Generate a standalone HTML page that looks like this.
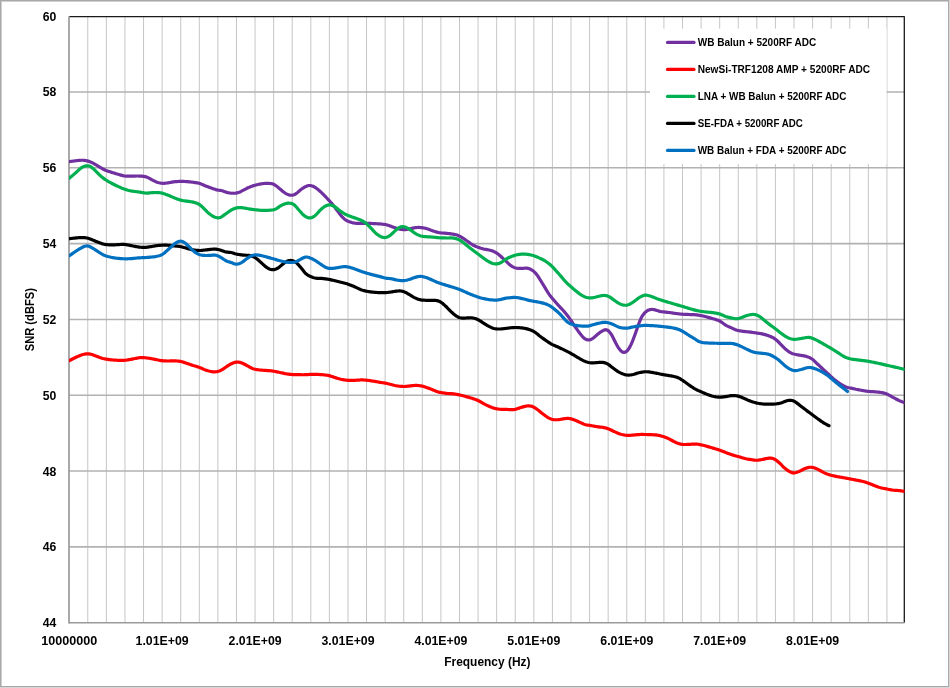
<!DOCTYPE html>
<html><head><meta charset="utf-8"><style>
html,body{margin:0;padding:0;background:#fff;}
body{width:950px;height:688px;overflow:hidden;position:relative;background:#d6d6d6;}
#frame{position:absolute;left:0;top:0;width:947px;height:685px;border:1px solid #a8a8a8;background:#fff;box-shadow:inset 1px 1px 0 #d0d0d0;}
svg{position:absolute;left:0;top:0;will-change:transform;}
.ax{font-family:"Liberation Sans",sans-serif;font-weight:bold;font-size:12.6px;fill:#000;}
.lg{font-family:"Liberation Sans",sans-serif;font-weight:bold;font-size:10.2px;fill:#000;}
</style></head><body>
<div id="frame"></div>
<svg width="950" height="688" viewBox="0 0 950 688">
<path d="M87.78,16.2V622.7 M106.37,16.2V622.7 M124.96,16.2V622.7 M143.54,16.2V622.7 M162.12,16.2V622.7 M180.71,16.2V622.7 M199.3,16.2V622.7 M217.88,16.2V622.7 M236.47,16.2V622.7 M255.05,16.2V622.7 M273.63,16.2V622.7 M292.22,16.2V622.7 M310.81,16.2V622.7 M329.39,16.2V622.7 M347.98,16.2V622.7 M366.56,16.2V622.7 M385.14,16.2V622.7 M403.73,16.2V622.7 M422.31,16.2V622.7 M440.9,16.2V622.7 M459.49,16.2V622.7 M478.07,16.2V622.7 M496.66,16.2V622.7 M515.24,16.2V622.7 M533.83,16.2V622.7 M552.41,16.2V622.7 M571.0,16.2V622.7 M589.58,16.2V622.7 M608.17,16.2V622.7 M626.75,16.2V622.7 M645.34,16.2V622.7 M663.92,16.2V622.7 M682.51,16.2V622.7 M701.09,16.2V622.7 M719.68,16.2V622.7 M738.26,16.2V622.7 M756.85,16.2V622.7 M775.43,16.2V622.7 M794.02,16.2V622.7 M812.6,16.2V622.7 M831.19,16.2V622.7 M849.77,16.2V622.7 M868.36,16.2V622.7 M886.94,16.2V622.7" stroke="#c6c6c6" stroke-width="1" fill="none"/>
<path d="M69.0,92.01H904.5 M69.0,167.82H904.5 M69.0,243.64H904.5 M69.0,319.45H904.5 M69.0,395.26H904.5 M69.0,471.07H904.5 M69.0,546.89H904.5" stroke="#b2b2b2" stroke-width="1.6" fill="none"/>
<path d="M69.0,16.7H904.5M904.3,16.2V622.7" stroke="#1a1a1a" stroke-width="1.3" fill="none"/>
<path d="M69.0,622.7H904.5" stroke="#9a9a9a" stroke-width="1.6" fill="none"/>
<path d="M69.0,16.2V623.5" stroke="#9a9a9a" stroke-width="1.7" fill="none"/>
<rect x="650" y="28.6" width="236.6" height="135.5" fill="#fff"/>
<clipPath id="pc"><rect x="69.0" y="16.2" width="835.5" height="606.5"/></clipPath><g clip-path="url(#pc)">
<path d="M69.0,161.60 L70.0,161.47 L71.0,161.35 L72.0,161.22 L73.0,161.10 L74.0,160.98 L75.0,160.86 L76.0,160.74 L77.0,160.61 L78.0,160.49 L79.0,160.38 L80.0,160.29 L81.0,160.24 L82.0,160.23 L83.0,160.26 L84.0,160.34 L85.0,160.46 L86.0,160.62 L87.0,160.83 L88.0,161.08 L89.0,161.39 L90.0,161.75 L91.0,162.16 L92.0,162.63 L93.0,163.13 L94.0,163.68 L95.0,164.26 L96.0,164.86 L97.0,165.46 L98.0,166.06 L99.0,166.66 L100.0,167.26 L101.0,167.86 L102.0,168.45 L103.0,169.01 L104.0,169.54 L105.0,170.02 L106.0,170.44 L107.0,170.81 L108.0,171.16 L109.0,171.49 L110.0,171.81 L111.0,172.12 L112.0,172.44 L113.0,172.75 L114.0,173.07 L115.0,173.39 L116.0,173.69 L117.0,173.99 L118.0,174.28 L119.0,174.57 L120.0,174.85 L121.0,175.13 L122.0,175.39 L123.0,175.63 L124.0,175.83 L125.0,175.99 L126.0,176.10 L127.0,176.17 L128.0,176.20 L129.0,176.21 L130.0,176.21 L131.0,176.20 L132.0,176.18 L133.0,176.15 L134.0,176.11 L135.0,176.06 L136.0,176.02 L137.0,176.00 L138.0,176.00 L139.0,176.03 L140.0,176.08 L141.0,176.14 L142.0,176.21 L143.0,176.31 L144.0,176.43 L145.0,176.61 L146.0,176.85 L147.0,177.19 L148.0,177.63 L149.0,178.16 L150.0,178.72 L151.0,179.28 L152.0,179.81 L153.0,180.34 L154.0,180.85 L155.0,181.34 L156.0,181.77 L157.0,182.15 L158.0,182.48 L159.0,182.76 L160.0,182.98 L161.0,183.16 L162.0,183.26 L163.0,183.31 L164.0,183.29 L165.0,183.22 L166.0,183.12 L167.0,183.00 L168.0,182.86 L169.0,182.70 L170.0,182.51 L171.0,182.31 L172.0,182.12 L173.0,181.94 L174.0,181.80 L175.0,181.70 L176.0,181.61 L177.0,181.54 L178.0,181.49 L179.0,181.45 L180.0,181.42 L181.0,181.40 L182.0,181.40 L183.0,181.42 L184.0,181.44 L185.0,181.49 L186.0,181.54 L187.0,181.61 L188.0,181.69 L189.0,181.79 L190.0,181.90 L191.0,182.02 L192.0,182.15 L193.0,182.28 L194.0,182.41 L195.0,182.54 L196.0,182.68 L197.0,182.84 L198.0,183.03 L199.0,183.28 L200.0,183.59 L201.0,183.96 L202.0,184.37 L203.0,184.81 L204.0,185.24 L205.0,185.67 L206.0,186.07 L207.0,186.46 L208.0,186.85 L209.0,187.23 L210.0,187.60 L211.0,187.95 L212.0,188.30 L213.0,188.65 L214.0,188.98 L215.0,189.30 L216.0,189.61 L217.0,189.89 L218.0,190.11 L219.0,190.25 L220.0,190.36 L221.0,190.52 L222.0,190.77 L223.0,191.09 L224.0,191.44 L225.0,191.79 L226.0,192.12 L227.0,192.40 L228.0,192.64 L229.0,192.84 L230.0,193.00 L231.0,193.13 L232.0,193.22 L233.0,193.27 L234.0,193.27 L235.0,193.21 L236.0,193.10 L237.0,192.92 L238.0,192.67 L239.0,192.35 L240.0,191.94 L241.0,191.45 L242.0,190.92 L243.0,190.38 L244.0,189.85 L245.0,189.33 L246.0,188.81 L247.0,188.30 L248.0,187.81 L249.0,187.36 L250.0,186.95 L251.0,186.56 L252.0,186.20 L253.0,185.86 L254.0,185.55 L255.0,185.25 L256.0,184.98 L257.0,184.73 L258.0,184.50 L259.0,184.29 L260.0,184.10 L261.0,183.93 L262.0,183.78 L263.0,183.65 L264.0,183.53 L265.0,183.43 L266.0,183.35 L267.0,183.31 L268.0,183.32 L269.0,183.39 L270.0,183.48 L271.0,183.56 L272.0,183.70 L273.0,183.99 L274.0,184.46 L275.0,185.08 L276.0,185.79 L277.0,186.56 L278.0,187.35 L279.0,188.15 L280.0,188.97 L281.0,189.82 L282.0,190.66 L283.0,191.49 L284.0,192.27 L285.0,192.99 L286.0,193.62 L287.0,194.14 L288.0,194.55 L289.0,194.86 L290.0,195.10 L291.0,195.23 L292.0,195.22 L293.0,195.05 L294.0,194.73 L295.0,194.26 L296.0,193.67 L297.0,192.95 L298.0,192.13 L299.0,191.25 L300.0,190.37 L301.0,189.55 L302.0,188.80 L303.0,188.12 L304.0,187.49 L305.0,186.92 L306.0,186.41 L307.0,185.99 L308.0,185.68 L309.0,185.52 L310.0,185.52 L311.0,185.67 L312.0,185.95 L313.0,186.31 L314.0,186.77 L315.0,187.31 L316.0,187.95 L317.0,188.68 L318.0,189.49 L319.0,190.36 L320.0,191.26 L321.0,192.19 L322.0,193.14 L323.0,194.13 L324.0,195.14 L325.0,196.17 L326.0,197.21 L327.0,198.25 L328.0,199.30 L329.0,200.37 L330.0,201.47 L331.0,202.61 L332.0,203.80 L333.0,205.05 L334.0,206.32 L335.0,207.61 L336.0,208.92 L337.0,210.23 L338.0,211.56 L339.0,212.89 L340.0,214.20 L341.0,215.44 L342.0,216.60 L343.0,217.67 L344.0,218.63 L345.0,219.47 L346.0,220.19 L347.0,220.76 L348.0,221.20 L349.0,221.57 L350.0,221.91 L351.0,222.24 L352.0,222.56 L353.0,222.84 L354.0,223.05 L355.0,223.20 L356.0,223.28 L357.0,223.32 L358.0,223.32 L359.0,223.31 L360.0,223.31 L361.0,223.30 L362.0,223.30 L363.0,223.29 L364.0,223.29 L365.0,223.29 L366.0,223.30 L367.0,223.32 L368.0,223.35 L369.0,223.38 L370.0,223.42 L371.0,223.46 L372.0,223.51 L373.0,223.56 L374.0,223.60 L375.0,223.65 L376.0,223.70 L377.0,223.74 L378.0,223.79 L379.0,223.85 L380.0,223.93 L381.0,224.01 L382.0,224.11 L383.0,224.22 L384.0,224.35 L385.0,224.50 L386.0,224.69 L387.0,224.93 L388.0,225.22 L389.0,225.55 L390.0,225.92 L391.0,226.30 L392.0,226.69 L393.0,227.06 L394.0,227.41 L395.0,227.75 L396.0,228.09 L397.0,228.40 L398.0,228.68 L399.0,228.94 L400.0,229.17 L401.0,229.37 L402.0,229.53 L403.0,229.63 L404.0,229.67 L405.0,229.63 L406.0,229.54 L407.0,229.40 L408.0,229.24 L409.0,229.05 L410.0,228.83 L411.0,228.59 L412.0,228.34 L413.0,228.10 L414.0,227.88 L415.0,227.71 L416.0,227.59 L417.0,227.51 L418.0,227.47 L419.0,227.47 L420.0,227.50 L421.0,227.58 L422.0,227.68 L423.0,227.82 L424.0,227.98 L425.0,228.19 L426.0,228.43 L427.0,228.72 L428.0,229.07 L429.0,229.45 L430.0,229.84 L431.0,230.22 L432.0,230.57 L433.0,230.91 L434.0,231.24 L435.0,231.55 L436.0,231.85 L437.0,232.12 L438.0,232.37 L439.0,232.58 L440.0,232.76 L441.0,232.91 L442.0,233.01 L443.0,233.09 L444.0,233.15 L445.0,233.22 L446.0,233.30 L447.0,233.39 L448.0,233.48 L449.0,233.59 L450.0,233.70 L451.0,233.83 L452.0,233.98 L453.0,234.14 L454.0,234.32 L455.0,234.53 L456.0,234.78 L457.0,235.09 L458.0,235.47 L459.0,235.92 L460.0,236.42 L461.0,236.97 L462.0,237.55 L463.0,238.17 L464.0,238.83 L465.0,239.53 L466.0,240.24 L467.0,240.96 L468.0,241.67 L469.0,242.37 L470.0,243.07 L471.0,243.76 L472.0,244.41 L473.0,245.01 L474.0,245.55 L475.0,246.03 L476.0,246.47 L477.0,246.87 L478.0,247.25 L479.0,247.61 L480.0,247.95 L481.0,248.27 L482.0,248.56 L483.0,248.83 L484.0,249.07 L485.0,249.26 L486.0,249.42 L487.0,249.57 L488.0,249.75 L489.0,249.97 L490.0,250.22 L491.0,250.50 L492.0,250.82 L493.0,251.17 L494.0,251.59 L495.0,252.09 L496.0,252.66 L497.0,253.31 L498.0,254.03 L499.0,254.81 L500.0,255.65 L501.0,256.55 L502.0,257.46 L503.0,258.39 L504.0,259.32 L505.0,260.26 L506.0,261.21 L507.0,262.18 L508.0,263.16 L509.0,264.09 L510.0,264.94 L511.0,265.69 L512.0,266.35 L513.0,266.93 L514.0,267.41 L515.0,267.78 L516.0,268.05 L517.0,268.22 L518.0,268.31 L519.0,268.36 L520.0,268.38 L521.0,268.38 L522.0,268.36 L523.0,268.30 L524.0,268.23 L525.0,268.16 L526.0,268.13 L527.0,268.16 L528.0,268.32 L529.0,268.61 L530.0,269.03 L531.0,269.52 L532.0,270.10 L533.0,270.79 L534.0,271.62 L535.0,272.57 L536.0,273.66 L537.0,274.89 L538.0,276.30 L539.0,277.85 L540.0,279.49 L541.0,281.14 L542.0,282.76 L543.0,284.37 L544.0,286.00 L545.0,287.66 L546.0,289.36 L547.0,291.03 L548.0,292.62 L549.0,294.08 L550.0,295.43 L551.0,296.70 L552.0,297.94 L553.0,299.15 L554.0,300.35 L555.0,301.51 L556.0,302.66 L557.0,303.79 L558.0,304.89 L559.0,305.98 L560.0,307.04 L561.0,308.10 L562.0,309.16 L563.0,310.25 L564.0,311.37 L565.0,312.52 L566.0,313.73 L567.0,314.99 L568.0,316.31 L569.0,317.67 L570.0,319.07 L571.0,320.51 L572.0,322.00 L573.0,323.52 L574.0,325.04 L575.0,326.53 L576.0,328.00 L577.0,329.45 L578.0,330.85 L579.0,332.19 L580.0,333.50 L581.0,334.79 L582.0,336.01 L583.0,337.13 L584.0,338.09 L585.0,338.83 L586.0,339.37 L587.0,339.72 L588.0,339.91 L589.0,339.95 L590.0,339.80 L591.0,339.44 L592.0,338.88 L593.0,338.20 L594.0,337.43 L595.0,336.60 L596.0,335.72 L597.0,334.82 L598.0,333.96 L599.0,333.16 L600.0,332.44 L601.0,331.77 L602.0,331.15 L603.0,330.60 L604.0,330.14 L605.0,329.81 L606.0,329.71 L607.0,329.96 L608.0,330.57 L609.0,331.46 L610.0,332.58 L611.0,333.93 L612.0,335.54 L613.0,337.42 L614.0,339.48 L615.0,341.55 L616.0,343.51 L617.0,345.34 L618.0,347.05 L619.0,348.58 L620.0,349.87 L621.0,350.92 L622.0,351.71 L623.0,352.23 L624.0,352.42 L625.0,352.28 L626.0,351.79 L627.0,350.99 L628.0,349.87 L629.0,348.42 L630.0,346.65 L631.0,344.60 L632.0,342.35 L633.0,339.91 L634.0,337.30 L635.0,334.55 L636.0,331.74 L637.0,328.90 L638.0,326.04 L639.0,323.21 L640.0,320.59 L641.0,318.33 L642.0,316.48 L643.0,314.97 L644.0,313.70 L645.0,312.62 L646.0,311.68 L647.0,310.92 L648.0,310.33 L649.0,309.92 L650.0,309.64 L651.0,309.48 L652.0,309.44 L653.0,309.52 L654.0,309.68 L655.0,309.90 L656.0,310.16 L657.0,310.47 L658.0,310.79 L659.0,311.10 L660.0,311.36 L661.0,311.57 L662.0,311.71 L663.0,311.83 L664.0,311.94 L665.0,312.05 L666.0,312.17 L667.0,312.29 L668.0,312.40 L669.0,312.53 L670.0,312.65 L671.0,312.79 L672.0,312.93 L673.0,313.09 L674.0,313.24 L675.0,313.39 L676.0,313.53 L677.0,313.66 L678.0,313.77 L679.0,313.88 L680.0,313.98 L681.0,314.08 L682.0,314.16 L683.0,314.23 L684.0,314.29 L685.0,314.34 L686.0,314.39 L687.0,314.43 L688.0,314.47 L689.0,314.50 L690.0,314.53 L691.0,314.55 L692.0,314.57 L693.0,314.60 L694.0,314.65 L695.0,314.72 L696.0,314.82 L697.0,314.94 L698.0,315.08 L699.0,315.23 L700.0,315.40 L701.0,315.59 L702.0,315.80 L703.0,316.03 L704.0,316.28 L705.0,316.54 L706.0,316.81 L707.0,317.07 L708.0,317.34 L709.0,317.61 L710.0,317.88 L711.0,318.16 L712.0,318.44 L713.0,318.74 L714.0,319.03 L715.0,319.32 L716.0,319.61 L717.0,319.93 L718.0,320.29 L719.0,320.71 L720.0,321.22 L721.0,321.82 L722.0,322.51 L723.0,323.25 L724.0,324.00 L725.0,324.71 L726.0,325.35 L727.0,325.90 L728.0,326.37 L729.0,326.80 L730.0,327.21 L731.0,327.64 L732.0,328.10 L733.0,328.59 L734.0,329.07 L735.0,329.52 L736.0,329.90 L737.0,330.21 L738.0,330.47 L739.0,330.68 L740.0,330.86 L741.0,331.03 L742.0,331.18 L743.0,331.33 L744.0,331.46 L745.0,331.58 L746.0,331.68 L747.0,331.77 L748.0,331.86 L749.0,331.96 L750.0,332.06 L751.0,332.18 L752.0,332.32 L753.0,332.46 L754.0,332.61 L755.0,332.76 L756.0,332.92 L757.0,333.07 L758.0,333.22 L759.0,333.37 L760.0,333.52 L761.0,333.69 L762.0,333.88 L763.0,334.10 L764.0,334.34 L765.0,334.60 L766.0,334.87 L767.0,335.18 L768.0,335.52 L769.0,335.89 L770.0,336.29 L771.0,336.72 L772.0,337.18 L773.0,337.69 L774.0,338.26 L775.0,338.93 L776.0,339.70 L777.0,340.57 L778.0,341.51 L779.0,342.50 L780.0,343.51 L781.0,344.53 L782.0,345.57 L783.0,346.62 L784.0,347.63 L785.0,348.59 L786.0,349.48 L787.0,350.31 L788.0,351.08 L789.0,351.79 L790.0,352.41 L791.0,352.95 L792.0,353.39 L793.0,353.74 L794.0,354.04 L795.0,354.30 L796.0,354.53 L797.0,354.74 L798.0,354.92 L799.0,355.09 L800.0,355.24 L801.0,355.40 L802.0,355.55 L803.0,355.69 L804.0,355.86 L805.0,356.06 L806.0,356.33 L807.0,356.64 L808.0,356.99 L809.0,357.38 L810.0,357.83 L811.0,358.37 L812.0,359.01 L813.0,359.78 L814.0,360.67 L815.0,361.63 L816.0,362.62 L817.0,363.58 L818.0,364.52 L819.0,365.45 L820.0,366.37 L821.0,367.29 L822.0,368.22 L823.0,369.14 L824.0,370.06 L825.0,370.98 L826.0,371.89 L827.0,372.81 L828.0,373.74 L829.0,374.66 L830.0,375.60 L831.0,376.55 L832.0,377.48 L833.0,378.39 L834.0,379.26 L835.0,380.09 L836.0,380.88 L837.0,381.64 L838.0,382.36 L839.0,383.05 L840.0,383.71 L841.0,384.33 L842.0,384.92 L843.0,385.48 L844.0,386.00 L845.0,386.48 L846.0,386.90 L847.0,387.26 L848.0,387.56 L849.0,387.80 L850.0,388.00 L851.0,388.17 L852.0,388.36 L853.0,388.57 L854.0,388.81 L855.0,389.06 L856.0,389.29 L857.0,389.49 L858.0,389.68 L859.0,389.86 L860.0,390.03 L861.0,390.21 L862.0,390.38 L863.0,390.55 L864.0,390.73 L865.0,390.91 L866.0,391.07 L867.0,391.23 L868.0,391.35 L869.0,391.45 L870.0,391.53 L871.0,391.58 L872.0,391.63 L873.0,391.68 L874.0,391.74 L875.0,391.81 L876.0,391.90 L877.0,391.99 L878.0,392.09 L879.0,392.21 L880.0,392.35 L881.0,392.51 L882.0,392.69 L883.0,392.89 L884.0,393.11 L885.0,393.38 L886.0,393.70 L887.0,394.08 L888.0,394.54 L889.0,395.07 L890.0,395.64 L891.0,396.23 L892.0,396.81 L893.0,397.38 L894.0,397.92 L895.0,398.45 L896.0,398.97 L897.0,399.48 L898.0,399.97 L899.0,400.45 L900.0,400.90 L901.0,401.32 L902.0,401.73 L903.0,402.12 L904.0,402.51 L904.5,402.70" stroke="#7030A0" stroke-width="3.2" fill="none" stroke-linecap="round" stroke-linejoin="round"/>
<path d="M69.0,360.70 L70.0,360.20 L71.0,359.71 L72.0,359.21 L73.0,358.72 L74.0,358.24 L75.0,357.76 L76.0,357.28 L77.0,356.82 L78.0,356.36 L79.0,355.92 L80.0,355.52 L81.0,355.15 L82.0,354.82 L83.0,354.53 L84.0,354.29 L85.0,354.09 L86.0,353.94 L87.0,353.85 L88.0,353.83 L89.0,353.90 L90.0,354.05 L91.0,354.28 L92.0,354.56 L93.0,354.89 L94.0,355.26 L95.0,355.65 L96.0,356.05 L97.0,356.44 L98.0,356.82 L99.0,357.19 L100.0,357.56 L101.0,357.90 L102.0,358.21 L103.0,358.48 L104.0,358.72 L105.0,358.92 L106.0,359.10 L107.0,359.26 L108.0,359.41 L109.0,359.55 L110.0,359.68 L111.0,359.79 L112.0,359.90 L113.0,359.99 L114.0,360.07 L115.0,360.14 L116.0,360.20 L117.0,360.25 L118.0,360.29 L119.0,360.32 L120.0,360.34 L121.0,360.36 L122.0,360.37 L123.0,360.36 L124.0,360.33 L125.0,360.27 L126.0,360.17 L127.0,360.04 L128.0,359.87 L129.0,359.69 L130.0,359.51 L131.0,359.33 L132.0,359.14 L133.0,358.94 L134.0,358.75 L135.0,358.55 L136.0,358.36 L137.0,358.16 L138.0,357.95 L139.0,357.77 L140.0,357.62 L141.0,357.54 L142.0,357.53 L143.0,357.57 L144.0,357.67 L145.0,357.78 L146.0,357.90 L147.0,358.01 L148.0,358.14 L149.0,358.27 L150.0,358.41 L151.0,358.58 L152.0,358.76 L153.0,358.96 L154.0,359.17 L155.0,359.38 L156.0,359.60 L157.0,359.80 L158.0,360.00 L159.0,360.20 L160.0,360.39 L161.0,360.55 L162.0,360.68 L163.0,360.79 L164.0,360.86 L165.0,360.92 L166.0,360.95 L167.0,360.98 L168.0,360.99 L169.0,360.99 L170.0,360.96 L171.0,360.93 L172.0,360.91 L173.0,360.90 L174.0,360.91 L175.0,360.93 L176.0,360.97 L177.0,361.02 L178.0,361.08 L179.0,361.18 L180.0,361.32 L181.0,361.51 L182.0,361.75 L183.0,362.04 L184.0,362.37 L185.0,362.71 L186.0,363.05 L187.0,363.40 L188.0,363.74 L189.0,364.09 L190.0,364.44 L191.0,364.79 L192.0,365.13 L193.0,365.46 L194.0,365.76 L195.0,366.05 L196.0,366.33 L197.0,366.61 L198.0,366.92 L199.0,367.25 L200.0,367.63 L201.0,368.05 L202.0,368.49 L203.0,368.94 L204.0,369.37 L205.0,369.77 L206.0,370.13 L207.0,370.45 L208.0,370.76 L209.0,371.04 L210.0,371.29 L211.0,371.50 L212.0,371.68 L213.0,371.81 L214.0,371.87 L215.0,371.84 L216.0,371.74 L217.0,371.57 L218.0,371.34 L219.0,371.05 L220.0,370.69 L221.0,370.25 L222.0,369.71 L223.0,369.08 L224.0,368.39 L225.0,367.69 L226.0,367.01 L227.0,366.35 L228.0,365.69 L229.0,365.06 L230.0,364.47 L231.0,363.93 L232.0,363.44 L233.0,363.01 L234.0,362.63 L235.0,362.33 L236.0,362.12 L237.0,362.03 L238.0,362.06 L239.0,362.20 L240.0,362.41 L241.0,362.70 L242.0,363.05 L243.0,363.46 L244.0,363.94 L245.0,364.47 L246.0,365.01 L247.0,365.56 L248.0,366.13 L249.0,366.70 L250.0,367.27 L251.0,367.81 L252.0,368.27 L253.0,368.66 L254.0,368.97 L255.0,369.23 L256.0,369.44 L257.0,369.62 L258.0,369.78 L259.0,369.91 L260.0,370.01 L261.0,370.10 L262.0,370.18 L263.0,370.26 L264.0,370.33 L265.0,370.40 L266.0,370.47 L267.0,370.53 L268.0,370.59 L269.0,370.66 L270.0,370.74 L271.0,370.84 L272.0,370.96 L273.0,371.11 L274.0,371.28 L275.0,371.46 L276.0,371.66 L277.0,371.86 L278.0,372.06 L279.0,372.27 L280.0,372.48 L281.0,372.70 L282.0,372.92 L283.0,373.14 L284.0,373.36 L285.0,373.57 L286.0,373.75 L287.0,373.92 L288.0,374.06 L289.0,374.19 L290.0,374.30 L291.0,374.39 L292.0,374.47 L293.0,374.53 L294.0,374.58 L295.0,374.62 L296.0,374.65 L297.0,374.67 L298.0,374.68 L299.0,374.70 L300.0,374.71 L301.0,374.72 L302.0,374.73 L303.0,374.73 L304.0,374.73 L305.0,374.71 L306.0,374.69 L307.0,374.64 L308.0,374.57 L309.0,374.49 L310.0,374.43 L311.0,374.39 L312.0,374.37 L313.0,374.36 L314.0,374.36 L315.0,374.37 L316.0,374.39 L317.0,374.42 L318.0,374.45 L319.0,374.50 L320.0,374.55 L321.0,374.61 L322.0,374.68 L323.0,374.76 L324.0,374.86 L325.0,374.97 L326.0,375.10 L327.0,375.24 L328.0,375.42 L329.0,375.63 L330.0,375.88 L331.0,376.18 L332.0,376.52 L333.0,376.87 L334.0,377.22 L335.0,377.56 L336.0,377.89 L337.0,378.21 L338.0,378.52 L339.0,378.81 L340.0,379.07 L341.0,379.31 L342.0,379.51 L343.0,379.69 L344.0,379.85 L345.0,379.99 L346.0,380.11 L347.0,380.22 L348.0,380.29 L349.0,380.35 L350.0,380.38 L351.0,380.38 L352.0,380.37 L353.0,380.35 L354.0,380.32 L355.0,380.29 L356.0,380.24 L357.0,380.19 L358.0,380.12 L359.0,380.05 L360.0,379.98 L361.0,379.94 L362.0,379.92 L363.0,379.93 L364.0,379.98 L365.0,380.05 L366.0,380.15 L367.0,380.26 L368.0,380.39 L369.0,380.52 L370.0,380.66 L371.0,380.81 L372.0,380.96 L373.0,381.11 L374.0,381.27 L375.0,381.43 L376.0,381.60 L377.0,381.78 L378.0,381.97 L379.0,382.15 L380.0,382.32 L381.0,382.48 L382.0,382.63 L383.0,382.77 L384.0,382.92 L385.0,383.09 L386.0,383.29 L387.0,383.49 L388.0,383.72 L389.0,383.95 L390.0,384.19 L391.0,384.44 L392.0,384.71 L393.0,384.99 L394.0,385.27 L395.0,385.52 L396.0,385.73 L397.0,385.90 L398.0,386.04 L399.0,386.17 L400.0,386.27 L401.0,386.36 L402.0,386.43 L403.0,386.47 L404.0,386.48 L405.0,386.45 L406.0,386.37 L407.0,386.27 L408.0,386.16 L409.0,386.04 L410.0,385.94 L411.0,385.83 L412.0,385.71 L413.0,385.61 L414.0,385.51 L415.0,385.45 L416.0,385.42 L417.0,385.44 L418.0,385.50 L419.0,385.59 L420.0,385.72 L421.0,385.87 L422.0,386.07 L423.0,386.31 L424.0,386.61 L425.0,386.95 L426.0,387.30 L427.0,387.65 L428.0,388.01 L429.0,388.37 L430.0,388.74 L431.0,389.13 L432.0,389.54 L433.0,389.96 L434.0,390.39 L435.0,390.80 L436.0,391.20 L437.0,391.55 L438.0,391.85 L439.0,392.11 L440.0,392.33 L441.0,392.53 L442.0,392.71 L443.0,392.88 L444.0,393.03 L445.0,393.17 L446.0,393.29 L447.0,393.40 L448.0,393.48 L449.0,393.54 L450.0,393.59 L451.0,393.64 L452.0,393.71 L453.0,393.80 L454.0,393.93 L455.0,394.08 L456.0,394.24 L457.0,394.42 L458.0,394.62 L459.0,394.82 L460.0,395.04 L461.0,395.27 L462.0,395.52 L463.0,395.78 L464.0,396.05 L465.0,396.32 L466.0,396.58 L467.0,396.85 L468.0,397.12 L469.0,397.39 L470.0,397.68 L471.0,397.98 L472.0,398.30 L473.0,398.62 L474.0,398.95 L475.0,399.30 L476.0,399.66 L477.0,400.05 L478.0,400.48 L479.0,400.97 L480.0,401.50 L481.0,402.08 L482.0,402.67 L483.0,403.25 L484.0,403.80 L485.0,404.34 L486.0,404.85 L487.0,405.35 L488.0,405.83 L489.0,406.28 L490.0,406.71 L491.0,407.12 L492.0,407.50 L493.0,407.85 L494.0,408.15 L495.0,408.41 L496.0,408.64 L497.0,408.83 L498.0,409.00 L499.0,409.15 L500.0,409.26 L501.0,409.34 L502.0,409.39 L503.0,409.40 L504.0,409.40 L505.0,409.40 L506.0,409.41 L507.0,409.44 L508.0,409.48 L509.0,409.53 L510.0,409.57 L511.0,409.59 L512.0,409.61 L513.0,409.60 L514.0,409.54 L515.0,409.39 L516.0,409.15 L517.0,408.83 L518.0,408.48 L519.0,408.12 L520.0,407.77 L521.0,407.45 L522.0,407.15 L523.0,406.86 L524.0,406.59 L525.0,406.35 L526.0,406.15 L527.0,406.02 L528.0,405.94 L529.0,405.92 L530.0,405.98 L531.0,406.14 L532.0,406.40 L533.0,406.79 L534.0,407.31 L535.0,407.93 L536.0,408.61 L537.0,409.32 L538.0,410.06 L539.0,410.83 L540.0,411.62 L541.0,412.43 L542.0,413.22 L543.0,414.00 L544.0,414.76 L545.0,415.51 L546.0,416.23 L547.0,416.91 L548.0,417.53 L549.0,418.10 L550.0,418.60 L551.0,419.02 L552.0,419.33 L553.0,419.55 L554.0,419.68 L555.0,419.75 L556.0,419.77 L557.0,419.75 L558.0,419.70 L559.0,419.61 L560.0,419.47 L561.0,419.29 L562.0,419.09 L563.0,418.91 L564.0,418.75 L565.0,418.61 L566.0,418.50 L567.0,418.42 L568.0,418.40 L569.0,418.46 L570.0,418.61 L571.0,418.83 L572.0,419.11 L573.0,419.43 L574.0,419.78 L575.0,420.17 L576.0,420.59 L577.0,421.04 L578.0,421.50 L579.0,421.96 L580.0,422.41 L581.0,422.85 L582.0,423.29 L583.0,423.72 L584.0,424.14 L585.0,424.53 L586.0,424.84 L587.0,425.05 L588.0,425.17 L589.0,425.27 L590.0,425.40 L591.0,425.58 L592.0,425.77 L593.0,425.96 L594.0,426.15 L595.0,426.34 L596.0,426.51 L597.0,426.66 L598.0,426.80 L599.0,426.92 L600.0,427.04 L601.0,427.15 L602.0,427.28 L603.0,427.43 L604.0,427.61 L605.0,427.82 L606.0,428.07 L607.0,428.37 L608.0,428.71 L609.0,429.11 L610.0,429.55 L611.0,430.02 L612.0,430.50 L613.0,430.98 L614.0,431.44 L615.0,431.91 L616.0,432.37 L617.0,432.82 L618.0,433.25 L619.0,433.63 L620.0,433.98 L621.0,434.27 L622.0,434.53 L623.0,434.75 L624.0,434.94 L625.0,435.10 L626.0,435.22 L627.0,435.30 L628.0,435.34 L629.0,435.34 L630.0,435.30 L631.0,435.24 L632.0,435.18 L633.0,435.10 L634.0,435.02 L635.0,434.92 L636.0,434.81 L637.0,434.70 L638.0,434.60 L639.0,434.53 L640.0,434.48 L641.0,434.46 L642.0,434.45 L643.0,434.46 L644.0,434.48 L645.0,434.49 L646.0,434.51 L647.0,434.53 L648.0,434.55 L649.0,434.57 L650.0,434.60 L651.0,434.64 L652.0,434.69 L653.0,434.74 L654.0,434.80 L655.0,434.86 L656.0,434.95 L657.0,435.08 L658.0,435.24 L659.0,435.44 L660.0,435.68 L661.0,435.93 L662.0,436.21 L663.0,436.51 L664.0,436.82 L665.0,437.16 L666.0,437.52 L667.0,437.94 L668.0,438.41 L669.0,438.93 L670.0,439.46 L671.0,439.99 L672.0,440.51 L673.0,441.03 L674.0,441.55 L675.0,442.05 L676.0,442.52 L677.0,442.95 L678.0,443.33 L679.0,443.65 L680.0,443.92 L681.0,444.14 L682.0,444.30 L683.0,444.41 L684.0,444.48 L685.0,444.50 L686.0,444.49 L687.0,444.46 L688.0,444.42 L689.0,444.38 L690.0,444.32 L691.0,444.25 L692.0,444.17 L693.0,444.09 L694.0,444.04 L695.0,444.02 L696.0,444.04 L697.0,444.12 L698.0,444.25 L699.0,444.42 L700.0,444.62 L701.0,444.84 L702.0,445.06 L703.0,445.30 L704.0,445.55 L705.0,445.81 L706.0,446.08 L707.0,446.35 L708.0,446.63 L709.0,446.91 L710.0,447.20 L711.0,447.50 L712.0,447.80 L713.0,448.10 L714.0,448.40 L715.0,448.70 L716.0,448.99 L717.0,449.29 L718.0,449.61 L719.0,449.94 L720.0,450.29 L721.0,450.66 L722.0,451.05 L723.0,451.44 L724.0,451.84 L725.0,452.23 L726.0,452.62 L727.0,453.00 L728.0,453.38 L729.0,453.75 L730.0,454.11 L731.0,454.46 L732.0,454.79 L733.0,455.11 L734.0,455.40 L735.0,455.68 L736.0,455.95 L737.0,456.22 L738.0,456.49 L739.0,456.78 L740.0,457.07 L741.0,457.38 L742.0,457.68 L743.0,457.97 L744.0,458.26 L745.0,458.53 L746.0,458.78 L747.0,458.99 L748.0,459.17 L749.0,459.32 L750.0,459.45 L751.0,459.58 L752.0,459.74 L753.0,459.90 L754.0,460.06 L755.0,460.19 L756.0,460.25 L757.0,460.25 L758.0,460.17 L759.0,460.04 L760.0,459.88 L761.0,459.70 L762.0,459.51 L763.0,459.31 L764.0,459.10 L765.0,458.87 L766.0,458.65 L767.0,458.45 L768.0,458.30 L769.0,458.21 L770.0,458.17 L771.0,458.20 L772.0,458.32 L773.0,458.55 L774.0,458.92 L775.0,459.44 L776.0,460.10 L777.0,460.85 L778.0,461.68 L779.0,462.55 L780.0,463.48 L781.0,464.48 L782.0,465.51 L783.0,466.53 L784.0,467.49 L785.0,468.37 L786.0,469.17 L787.0,469.91 L788.0,470.60 L789.0,471.23 L790.0,471.79 L791.0,472.28 L792.0,472.65 L793.0,472.87 L794.0,472.91 L795.0,472.79 L796.0,472.56 L797.0,472.24 L798.0,471.87 L799.0,471.46 L800.0,471.02 L801.0,470.53 L802.0,470.01 L803.0,469.49 L804.0,468.99 L805.0,468.55 L806.0,468.17 L807.0,467.84 L808.0,467.58 L809.0,467.38 L810.0,467.27 L811.0,467.26 L812.0,467.36 L813.0,467.55 L814.0,467.81 L815.0,468.13 L816.0,468.51 L817.0,468.93 L818.0,469.42 L819.0,469.93 L820.0,470.47 L821.0,471.00 L822.0,471.54 L823.0,472.08 L824.0,472.62 L825.0,473.12 L826.0,473.57 L827.0,473.97 L828.0,474.32 L829.0,474.63 L830.0,474.92 L831.0,475.19 L832.0,475.45 L833.0,475.69 L834.0,475.92 L835.0,476.14 L836.0,476.35 L837.0,476.56 L838.0,476.76 L839.0,476.94 L840.0,477.12 L841.0,477.29 L842.0,477.45 L843.0,477.62 L844.0,477.79 L845.0,477.97 L846.0,478.16 L847.0,478.35 L848.0,478.54 L849.0,478.72 L850.0,478.91 L851.0,479.10 L852.0,479.29 L853.0,479.48 L854.0,479.67 L855.0,479.86 L856.0,480.06 L857.0,480.25 L858.0,480.44 L859.0,480.63 L860.0,480.83 L861.0,481.04 L862.0,481.27 L863.0,481.51 L864.0,481.78 L865.0,482.07 L866.0,482.37 L867.0,482.69 L868.0,483.03 L869.0,483.39 L870.0,483.78 L871.0,484.18 L872.0,484.59 L873.0,485.00 L874.0,485.40 L875.0,485.79 L876.0,486.17 L877.0,486.55 L878.0,486.91 L879.0,487.25 L880.0,487.55 L881.0,487.82 L882.0,488.06 L883.0,488.27 L884.0,488.47 L885.0,488.66 L886.0,488.85 L887.0,489.04 L888.0,489.25 L889.0,489.45 L890.0,489.65 L891.0,489.84 L892.0,490.01 L893.0,490.16 L894.0,490.27 L895.0,490.35 L896.0,490.41 L897.0,490.46 L898.0,490.51 L899.0,490.59 L900.0,490.70 L901.0,490.83 L902.0,490.98 L903.0,491.15 L904.0,491.32 L904.5,491.40" stroke="#FF0000" stroke-width="3.2" fill="none" stroke-linecap="round" stroke-linejoin="round"/>
<path d="M69.0,178.40 L70.0,177.59 L71.0,176.78 L72.0,175.96 L73.0,175.13 L74.0,174.29 L75.0,173.41 L76.0,172.50 L77.0,171.56 L78.0,170.62 L79.0,169.70 L80.0,168.84 L81.0,168.08 L82.0,167.42 L83.0,166.87 L84.0,166.44 L85.0,166.10 L86.0,165.87 L87.0,165.77 L88.0,165.81 L89.0,166.00 L90.0,166.36 L91.0,166.89 L92.0,167.59 L93.0,168.43 L94.0,169.35 L95.0,170.33 L96.0,171.31 L97.0,172.31 L98.0,173.33 L99.0,174.35 L100.0,175.33 L101.0,176.25 L102.0,177.10 L103.0,177.89 L104.0,178.63 L105.0,179.34 L106.0,180.02 L107.0,180.66 L108.0,181.26 L109.0,181.85 L110.0,182.41 L111.0,182.95 L112.0,183.49 L113.0,184.01 L114.0,184.52 L115.0,185.01 L116.0,185.49 L117.0,185.96 L118.0,186.42 L119.0,186.87 L120.0,187.31 L121.0,187.75 L122.0,188.18 L123.0,188.58 L124.0,188.97 L125.0,189.32 L126.0,189.64 L127.0,189.94 L128.0,190.22 L129.0,190.47 L130.0,190.70 L131.0,190.91 L132.0,191.09 L133.0,191.25 L134.0,191.38 L135.0,191.50 L136.0,191.61 L137.0,191.73 L138.0,191.85 L139.0,192.00 L140.0,192.17 L141.0,192.34 L142.0,192.52 L143.0,192.70 L144.0,192.85 L145.0,192.98 L146.0,193.07 L147.0,193.09 L148.0,193.04 L149.0,192.94 L150.0,192.83 L151.0,192.73 L152.0,192.65 L153.0,192.59 L154.0,192.54 L155.0,192.51 L156.0,192.50 L157.0,192.53 L158.0,192.58 L159.0,192.66 L160.0,192.77 L161.0,192.92 L162.0,193.13 L163.0,193.39 L164.0,193.69 L165.0,194.04 L166.0,194.41 L167.0,194.79 L168.0,195.19 L169.0,195.60 L170.0,196.03 L171.0,196.47 L172.0,196.90 L173.0,197.33 L174.0,197.73 L175.0,198.13 L176.0,198.52 L177.0,198.90 L178.0,199.26 L179.0,199.60 L180.0,199.91 L181.0,200.18 L182.0,200.41 L183.0,200.60 L184.0,200.76 L185.0,200.91 L186.0,201.05 L187.0,201.20 L188.0,201.33 L189.0,201.46 L190.0,201.58 L191.0,201.72 L192.0,201.89 L193.0,202.10 L194.0,202.35 L195.0,202.63 L196.0,202.95 L197.0,203.31 L198.0,203.74 L199.0,204.25 L200.0,204.91 L201.0,205.71 L202.0,206.63 L203.0,207.61 L204.0,208.61 L205.0,209.63 L206.0,210.66 L207.0,211.68 L208.0,212.64 L209.0,213.52 L210.0,214.31 L211.0,215.02 L212.0,215.68 L213.0,216.28 L214.0,216.80 L215.0,217.22 L216.0,217.51 L217.0,217.70 L218.0,217.80 L219.0,217.78 L220.0,217.55 L221.0,217.11 L222.0,216.51 L223.0,215.84 L224.0,215.14 L225.0,214.42 L226.0,213.70 L227.0,212.97 L228.0,212.22 L229.0,211.49 L230.0,210.82 L231.0,210.22 L232.0,209.68 L233.0,209.19 L234.0,208.75 L235.0,208.37 L236.0,208.07 L237.0,207.84 L238.0,207.69 L239.0,207.62 L240.0,207.60 L241.0,207.64 L242.0,207.70 L243.0,207.81 L244.0,207.96 L245.0,208.15 L246.0,208.35 L247.0,208.55 L248.0,208.74 L249.0,208.90 L250.0,209.06 L251.0,209.20 L252.0,209.34 L253.0,209.48 L254.0,209.60 L255.0,209.72 L256.0,209.84 L257.0,209.95 L258.0,210.05 L259.0,210.14 L260.0,210.22 L261.0,210.28 L262.0,210.32 L263.0,210.36 L264.0,210.38 L265.0,210.39 L266.0,210.39 L267.0,210.36 L268.0,210.31 L269.0,210.25 L270.0,210.18 L271.0,210.09 L272.0,209.98 L273.0,209.83 L274.0,209.61 L275.0,209.30 L276.0,208.86 L277.0,208.27 L278.0,207.57 L279.0,206.84 L280.0,206.16 L281.0,205.57 L282.0,205.06 L283.0,204.60 L284.0,204.19 L285.0,203.84 L286.0,203.55 L287.0,203.34 L288.0,203.20 L289.0,203.17 L290.0,203.23 L291.0,203.39 L292.0,203.66 L293.0,204.09 L294.0,204.71 L295.0,205.55 L296.0,206.59 L297.0,207.76 L298.0,208.98 L299.0,210.17 L300.0,211.32 L301.0,212.44 L302.0,213.52 L303.0,214.54 L304.0,215.44 L305.0,216.19 L306.0,216.80 L307.0,217.27 L308.0,217.63 L309.0,217.85 L310.0,217.92 L311.0,217.82 L312.0,217.52 L313.0,217.05 L314.0,216.42 L315.0,215.66 L316.0,214.77 L317.0,213.74 L318.0,212.61 L319.0,211.45 L320.0,210.36 L321.0,209.38 L322.0,208.49 L323.0,207.68 L324.0,206.94 L325.0,206.30 L326.0,205.77 L327.0,205.36 L328.0,205.08 L329.0,204.95 L330.0,204.95 L331.0,205.10 L332.0,205.38 L333.0,205.78 L334.0,206.30 L335.0,206.91 L336.0,207.61 L337.0,208.38 L338.0,209.18 L339.0,209.97 L340.0,210.73 L341.0,211.46 L342.0,212.17 L343.0,212.85 L344.0,213.48 L345.0,214.06 L346.0,214.58 L347.0,215.03 L348.0,215.44 L349.0,215.82 L350.0,216.20 L351.0,216.56 L352.0,216.92 L353.0,217.27 L354.0,217.62 L355.0,217.97 L356.0,218.33 L357.0,218.69 L358.0,219.07 L359.0,219.45 L360.0,219.85 L361.0,220.27 L362.0,220.73 L363.0,221.24 L364.0,221.82 L365.0,222.48 L366.0,223.23 L367.0,224.08 L368.0,225.02 L369.0,226.01 L370.0,227.04 L371.0,228.10 L372.0,229.19 L373.0,230.32 L374.0,231.44 L375.0,232.48 L376.0,233.40 L377.0,234.21 L378.0,234.94 L379.0,235.60 L380.0,236.19 L381.0,236.70 L382.0,237.11 L383.0,237.40 L384.0,237.54 L385.0,237.53 L386.0,237.37 L387.0,237.08 L388.0,236.66 L389.0,236.12 L390.0,235.44 L391.0,234.64 L392.0,233.74 L393.0,232.79 L394.0,231.84 L395.0,230.92 L396.0,230.01 L397.0,229.14 L398.0,228.35 L399.0,227.69 L400.0,227.20 L401.0,226.86 L402.0,226.66 L403.0,226.62 L404.0,226.74 L405.0,227.00 L406.0,227.37 L407.0,227.84 L408.0,228.37 L409.0,228.96 L410.0,229.62 L411.0,230.34 L412.0,231.10 L413.0,231.85 L414.0,232.57 L415.0,233.23 L416.0,233.84 L417.0,234.40 L418.0,234.90 L419.0,235.33 L420.0,235.70 L421.0,235.98 L422.0,236.20 L423.0,236.36 L424.0,236.49 L425.0,236.60 L426.0,236.69 L427.0,236.78 L428.0,236.84 L429.0,236.89 L430.0,236.94 L431.0,237.00 L432.0,237.07 L433.0,237.16 L434.0,237.25 L435.0,237.35 L436.0,237.45 L437.0,237.55 L438.0,237.66 L439.0,237.76 L440.0,237.84 L441.0,237.90 L442.0,237.93 L443.0,237.95 L444.0,237.97 L445.0,237.97 L446.0,237.98 L447.0,237.99 L448.0,237.99 L449.0,237.99 L450.0,237.97 L451.0,237.96 L452.0,237.97 L453.0,238.03 L454.0,238.15 L455.0,238.34 L456.0,238.60 L457.0,238.91 L458.0,239.29 L459.0,239.74 L460.0,240.27 L461.0,240.89 L462.0,241.58 L463.0,242.32 L464.0,243.10 L465.0,243.89 L466.0,244.70 L467.0,245.54 L468.0,246.38 L469.0,247.20 L470.0,247.99 L471.0,248.75 L472.0,249.48 L473.0,250.21 L474.0,250.94 L475.0,251.68 L476.0,252.44 L477.0,253.21 L478.0,253.98 L479.0,254.75 L480.0,255.52 L481.0,256.29 L482.0,257.07 L483.0,257.83 L484.0,258.57 L485.0,259.28 L486.0,259.95 L487.0,260.60 L488.0,261.21 L489.0,261.78 L490.0,262.29 L491.0,262.75 L492.0,263.14 L493.0,263.48 L494.0,263.74 L495.0,263.89 L496.0,263.93 L497.0,263.86 L498.0,263.67 L499.0,263.38 L500.0,263.01 L501.0,262.54 L502.0,261.96 L503.0,261.28 L504.0,260.53 L505.0,259.81 L506.0,259.14 L507.0,258.56 L508.0,258.03 L509.0,257.55 L510.0,257.10 L511.0,256.69 L512.0,256.31 L513.0,255.94 L514.0,255.61 L515.0,255.30 L516.0,255.02 L517.0,254.78 L518.0,254.59 L519.0,254.43 L520.0,254.30 L521.0,254.21 L522.0,254.15 L523.0,254.12 L524.0,254.12 L525.0,254.15 L526.0,254.22 L527.0,254.32 L528.0,254.45 L529.0,254.61 L530.0,254.79 L531.0,255.01 L532.0,255.25 L533.0,255.53 L534.0,255.83 L535.0,256.17 L536.0,256.53 L537.0,256.94 L538.0,257.38 L539.0,257.85 L540.0,258.33 L541.0,258.81 L542.0,259.29 L543.0,259.77 L544.0,260.27 L545.0,260.84 L546.0,261.49 L547.0,262.19 L548.0,262.94 L549.0,263.73 L550.0,264.55 L551.0,265.42 L552.0,266.35 L553.0,267.36 L554.0,268.45 L555.0,269.57 L556.0,270.70 L557.0,271.81 L558.0,272.92 L559.0,274.05 L560.0,275.20 L561.0,276.38 L562.0,277.57 L563.0,278.76 L564.0,279.92 L565.0,281.05 L566.0,282.14 L567.0,283.16 L568.0,284.11 L569.0,285.02 L570.0,285.90 L571.0,286.78 L572.0,287.67 L573.0,288.54 L574.0,289.40 L575.0,290.24 L576.0,291.05 L577.0,291.85 L578.0,292.63 L579.0,293.39 L580.0,294.11 L581.0,294.78 L582.0,295.39 L583.0,295.94 L584.0,296.44 L585.0,296.89 L586.0,297.25 L587.0,297.53 L588.0,297.72 L589.0,297.83 L590.0,297.88 L591.0,297.87 L592.0,297.80 L593.0,297.67 L594.0,297.49 L595.0,297.27 L596.0,297.02 L597.0,296.75 L598.0,296.48 L599.0,296.22 L600.0,295.97 L601.0,295.76 L602.0,295.60 L603.0,295.50 L604.0,295.47 L605.0,295.50 L606.0,295.62 L607.0,295.83 L608.0,296.15 L609.0,296.60 L610.0,297.19 L611.0,297.88 L612.0,298.62 L613.0,299.37 L614.0,300.09 L615.0,300.79 L616.0,301.49 L617.0,302.18 L618.0,302.83 L619.0,303.41 L620.0,303.91 L621.0,304.34 L622.0,304.69 L623.0,304.98 L624.0,305.18 L625.0,305.27 L626.0,305.25 L627.0,305.10 L628.0,304.82 L629.0,304.44 L630.0,303.97 L631.0,303.44 L632.0,302.85 L633.0,302.21 L634.0,301.51 L635.0,300.74 L636.0,299.95 L637.0,299.16 L638.0,298.42 L639.0,297.74 L640.0,297.12 L641.0,296.57 L642.0,296.08 L643.0,295.66 L644.0,295.34 L645.0,295.17 L646.0,295.16 L647.0,295.28 L648.0,295.48 L649.0,295.74 L650.0,296.03 L651.0,296.35 L652.0,296.70 L653.0,297.08 L654.0,297.48 L655.0,297.89 L656.0,298.29 L657.0,298.68 L658.0,299.04 L659.0,299.39 L660.0,299.72 L661.0,300.05 L662.0,300.36 L663.0,300.68 L664.0,300.99 L665.0,301.30 L666.0,301.60 L667.0,301.90 L668.0,302.19 L669.0,302.49 L670.0,302.78 L671.0,303.08 L672.0,303.38 L673.0,303.67 L674.0,303.97 L675.0,304.26 L676.0,304.55 L677.0,304.84 L678.0,305.12 L679.0,305.40 L680.0,305.68 L681.0,305.97 L682.0,306.26 L683.0,306.56 L684.0,306.87 L685.0,307.19 L686.0,307.51 L687.0,307.84 L688.0,308.15 L689.0,308.46 L690.0,308.75 L691.0,309.05 L692.0,309.33 L693.0,309.60 L694.0,309.87 L695.0,310.12 L696.0,310.36 L697.0,310.59 L698.0,310.80 L699.0,311.01 L700.0,311.20 L701.0,311.37 L702.0,311.53 L703.0,311.66 L704.0,311.78 L705.0,311.88 L706.0,311.99 L707.0,312.09 L708.0,312.18 L709.0,312.27 L710.0,312.36 L711.0,312.45 L712.0,312.55 L713.0,312.68 L714.0,312.83 L715.0,312.98 L716.0,313.16 L717.0,313.35 L718.0,313.57 L719.0,313.82 L720.0,314.13 L721.0,314.49 L722.0,314.90 L723.0,315.33 L724.0,315.78 L725.0,316.20 L726.0,316.57 L727.0,316.90 L728.0,317.18 L729.0,317.42 L730.0,317.65 L731.0,317.86 L732.0,318.09 L733.0,318.31 L734.0,318.52 L735.0,318.67 L736.0,318.74 L737.0,318.71 L738.0,318.56 L739.0,318.33 L740.0,318.04 L741.0,317.72 L742.0,317.38 L743.0,317.00 L744.0,316.59 L745.0,316.18 L746.0,315.81 L747.0,315.49 L748.0,315.22 L749.0,314.98 L750.0,314.76 L751.0,314.59 L752.0,314.48 L753.0,314.44 L754.0,314.49 L755.0,314.62 L756.0,314.85 L757.0,315.18 L758.0,315.61 L759.0,316.16 L760.0,316.82 L761.0,317.57 L762.0,318.37 L763.0,319.19 L764.0,320.01 L765.0,320.84 L766.0,321.69 L767.0,322.53 L768.0,323.35 L769.0,324.13 L770.0,324.88 L771.0,325.61 L772.0,326.32 L773.0,327.03 L774.0,327.75 L775.0,328.49 L776.0,329.26 L777.0,330.05 L778.0,330.86 L779.0,331.65 L780.0,332.43 L781.0,333.19 L782.0,333.93 L783.0,334.66 L784.0,335.37 L785.0,336.04 L786.0,336.66 L787.0,337.21 L788.0,337.70 L789.0,338.13 L790.0,338.51 L791.0,338.82 L792.0,339.06 L793.0,339.23 L794.0,339.32 L795.0,339.32 L796.0,339.25 L797.0,339.13 L798.0,338.98 L799.0,338.84 L800.0,338.69 L801.0,338.52 L802.0,338.34 L803.0,338.15 L804.0,337.97 L805.0,337.79 L806.0,337.63 L807.0,337.51 L808.0,337.45 L809.0,337.46 L810.0,337.58 L811.0,337.80 L812.0,338.12 L813.0,338.51 L814.0,338.93 L815.0,339.38 L816.0,339.87 L817.0,340.39 L818.0,340.93 L819.0,341.47 L820.0,342.02 L821.0,342.58 L822.0,343.15 L823.0,343.73 L824.0,344.31 L825.0,344.89 L826.0,345.47 L827.0,346.04 L828.0,346.61 L829.0,347.17 L830.0,347.75 L831.0,348.33 L832.0,348.93 L833.0,349.54 L834.0,350.16 L835.0,350.79 L836.0,351.43 L837.0,352.06 L838.0,352.71 L839.0,353.37 L840.0,354.04 L841.0,354.71 L842.0,355.36 L843.0,355.97 L844.0,356.51 L845.0,357.00 L846.0,357.43 L847.0,357.81 L848.0,358.15 L849.0,358.46 L850.0,358.73 L851.0,358.97 L852.0,359.16 L853.0,359.32 L854.0,359.45 L855.0,359.58 L856.0,359.70 L857.0,359.83 L858.0,359.95 L859.0,360.06 L860.0,360.18 L861.0,360.30 L862.0,360.42 L863.0,360.54 L864.0,360.67 L865.0,360.80 L866.0,360.94 L867.0,361.09 L868.0,361.26 L869.0,361.43 L870.0,361.61 L871.0,361.81 L872.0,362.01 L873.0,362.21 L874.0,362.42 L875.0,362.62 L876.0,362.83 L877.0,363.04 L878.0,363.25 L879.0,363.46 L880.0,363.68 L881.0,363.90 L882.0,364.13 L883.0,364.37 L884.0,364.61 L885.0,364.85 L886.0,365.09 L887.0,365.32 L888.0,365.55 L889.0,365.77 L890.0,365.99 L891.0,366.21 L892.0,366.43 L893.0,366.66 L894.0,366.88 L895.0,367.11 L896.0,367.33 L897.0,367.56 L898.0,367.80 L899.0,368.03 L900.0,368.27 L901.0,368.52 L902.0,368.77 L903.0,369.02 L904.0,369.27 L904.5,369.40" stroke="#00B050" stroke-width="3.2" fill="none" stroke-linecap="round" stroke-linejoin="round"/>
<path d="M69.0,238.70 L70.0,238.59 L71.0,238.48 L72.0,238.38 L73.0,238.27 L74.0,238.17 L75.0,238.07 L76.0,237.96 L77.0,237.86 L78.0,237.75 L79.0,237.66 L80.0,237.58 L81.0,237.53 L82.0,237.52 L83.0,237.55 L84.0,237.61 L85.0,237.71 L86.0,237.85 L87.0,238.04 L88.0,238.28 L89.0,238.58 L90.0,238.93 L91.0,239.32 L92.0,239.72 L93.0,240.13 L94.0,240.56 L95.0,240.99 L96.0,241.42 L97.0,241.83 L98.0,242.22 L99.0,242.59 L100.0,242.94 L101.0,243.28 L102.0,243.61 L103.0,243.91 L104.0,244.19 L105.0,244.41 L106.0,244.57 L107.0,244.67 L108.0,244.75 L109.0,244.81 L110.0,244.85 L111.0,244.88 L112.0,244.89 L113.0,244.88 L114.0,244.85 L115.0,244.80 L116.0,244.74 L117.0,244.68 L118.0,244.62 L119.0,244.57 L120.0,244.51 L121.0,244.45 L122.0,244.41 L123.0,244.41 L124.0,244.45 L125.0,244.53 L126.0,244.65 L127.0,244.80 L128.0,244.96 L129.0,245.15 L130.0,245.35 L131.0,245.56 L132.0,245.78 L133.0,246.01 L134.0,246.22 L135.0,246.41 L136.0,246.59 L137.0,246.76 L138.0,246.92 L139.0,247.06 L140.0,247.19 L141.0,247.28 L142.0,247.35 L143.0,247.38 L144.0,247.38 L145.0,247.35 L146.0,247.29 L147.0,247.20 L148.0,247.08 L149.0,246.94 L150.0,246.79 L151.0,246.63 L152.0,246.46 L153.0,246.29 L154.0,246.11 L155.0,245.94 L156.0,245.78 L157.0,245.64 L158.0,245.53 L159.0,245.42 L160.0,245.33 L161.0,245.26 L162.0,245.21 L163.0,245.17 L164.0,245.14 L165.0,245.13 L166.0,245.14 L167.0,245.17 L168.0,245.23 L169.0,245.31 L170.0,245.41 L171.0,245.54 L172.0,245.66 L173.0,245.79 L174.0,245.90 L175.0,246.00 L176.0,246.09 L177.0,246.18 L178.0,246.27 L179.0,246.38 L180.0,246.52 L181.0,246.70 L182.0,246.93 L183.0,247.19 L184.0,247.48 L185.0,247.78 L186.0,248.07 L187.0,248.35 L188.0,248.64 L189.0,248.92 L190.0,249.19 L191.0,249.43 L192.0,249.65 L193.0,249.83 L194.0,249.99 L195.0,250.13 L196.0,250.26 L197.0,250.36 L198.0,250.43 L199.0,250.47 L200.0,250.48 L201.0,250.44 L202.0,250.36 L203.0,250.26 L204.0,250.15 L205.0,250.03 L206.0,249.92 L207.0,249.81 L208.0,249.69 L209.0,249.57 L210.0,249.45 L211.0,249.34 L212.0,249.24 L213.0,249.15 L214.0,249.09 L215.0,249.09 L216.0,249.16 L217.0,249.31 L218.0,249.51 L219.0,249.76 L220.0,250.03 L221.0,250.32 L222.0,250.65 L223.0,251.00 L224.0,251.37 L225.0,251.69 L226.0,251.95 L227.0,252.12 L228.0,252.21 L229.0,252.28 L230.0,252.37 L231.0,252.51 L232.0,252.73 L233.0,253.03 L234.0,253.36 L235.0,253.67 L236.0,253.95 L237.0,254.18 L238.0,254.37 L239.0,254.53 L240.0,254.68 L241.0,254.81 L242.0,254.93 L243.0,255.04 L244.0,255.13 L245.0,255.19 L246.0,255.23 L247.0,255.27 L248.0,255.33 L249.0,255.44 L250.0,255.60 L251.0,255.83 L252.0,256.11 L253.0,256.47 L254.0,256.92 L255.0,257.49 L256.0,258.17 L257.0,258.96 L258.0,259.82 L259.0,260.71 L260.0,261.60 L261.0,262.51 L262.0,263.44 L263.0,264.36 L264.0,265.27 L265.0,266.12 L266.0,266.91 L267.0,267.62 L268.0,268.25 L269.0,268.78 L270.0,269.20 L271.0,269.50 L272.0,269.67 L273.0,269.69 L274.0,269.57 L275.0,269.33 L276.0,268.98 L277.0,268.54 L278.0,267.98 L279.0,267.31 L280.0,266.53 L281.0,265.66 L282.0,264.77 L283.0,263.92 L284.0,263.14 L285.0,262.43 L286.0,261.80 L287.0,261.27 L288.0,260.87 L289.0,260.60 L290.0,260.46 L291.0,260.46 L292.0,260.60 L293.0,260.88 L294.0,261.30 L295.0,261.84 L296.0,262.52 L297.0,263.34 L298.0,264.32 L299.0,265.43 L300.0,266.61 L301.0,267.82 L302.0,269.07 L303.0,270.34 L304.0,271.60 L305.0,272.77 L306.0,273.79 L307.0,274.61 L308.0,275.25 L309.0,275.77 L310.0,276.23 L311.0,276.66 L312.0,277.08 L313.0,277.45 L314.0,277.78 L315.0,278.04 L316.0,278.21 L317.0,278.31 L318.0,278.34 L319.0,278.34 L320.0,278.34 L321.0,278.37 L322.0,278.44 L323.0,278.55 L324.0,278.67 L325.0,278.80 L326.0,278.94 L327.0,279.09 L328.0,279.26 L329.0,279.43 L330.0,279.63 L331.0,279.84 L332.0,280.07 L333.0,280.32 L334.0,280.57 L335.0,280.82 L336.0,281.07 L337.0,281.32 L338.0,281.56 L339.0,281.80 L340.0,282.05 L341.0,282.30 L342.0,282.55 L343.0,282.80 L344.0,283.04 L345.0,283.28 L346.0,283.54 L347.0,283.83 L348.0,284.15 L349.0,284.50 L350.0,284.88 L351.0,285.28 L352.0,285.68 L353.0,286.10 L354.0,286.52 L355.0,286.95 L356.0,287.41 L357.0,287.88 L358.0,288.36 L359.0,288.83 L360.0,289.27 L361.0,289.67 L362.0,290.03 L363.0,290.34 L364.0,290.61 L365.0,290.86 L366.0,291.09 L367.0,291.29 L368.0,291.48 L369.0,291.65 L370.0,291.81 L371.0,291.94 L372.0,292.06 L373.0,292.17 L374.0,292.26 L375.0,292.35 L376.0,292.42 L377.0,292.48 L378.0,292.54 L379.0,292.58 L380.0,292.62 L381.0,292.65 L382.0,292.67 L383.0,292.67 L384.0,292.67 L385.0,292.64 L386.0,292.58 L387.0,292.50 L388.0,292.39 L389.0,292.25 L390.0,292.11 L391.0,291.96 L392.0,291.81 L393.0,291.66 L394.0,291.51 L395.0,291.35 L396.0,291.20 L397.0,291.07 L398.0,290.98 L399.0,290.93 L400.0,290.95 L401.0,291.03 L402.0,291.19 L403.0,291.42 L404.0,291.74 L405.0,292.14 L406.0,292.63 L407.0,293.20 L408.0,293.80 L409.0,294.40 L410.0,294.99 L411.0,295.59 L412.0,296.19 L413.0,296.79 L414.0,297.35 L415.0,297.88 L416.0,298.35 L417.0,298.76 L418.0,299.12 L419.0,299.42 L420.0,299.68 L421.0,299.89 L422.0,300.05 L423.0,300.16 L424.0,300.22 L425.0,300.26 L426.0,300.29 L427.0,300.31 L428.0,300.31 L429.0,300.31 L430.0,300.30 L431.0,300.30 L432.0,300.30 L433.0,300.30 L434.0,300.32 L435.0,300.36 L436.0,300.46 L437.0,300.63 L438.0,300.88 L439.0,301.23 L440.0,301.70 L441.0,302.29 L442.0,303.00 L443.0,303.81 L444.0,304.68 L445.0,305.59 L446.0,306.53 L447.0,307.50 L448.0,308.53 L449.0,309.57 L450.0,310.60 L451.0,311.59 L452.0,312.53 L453.0,313.43 L454.0,314.28 L455.0,315.09 L456.0,315.82 L457.0,316.46 L458.0,317.00 L459.0,317.43 L460.0,317.75 L461.0,317.96 L462.0,318.08 L463.0,318.11 L464.0,318.09 L465.0,318.05 L466.0,318.00 L467.0,317.94 L468.0,317.87 L469.0,317.80 L470.0,317.75 L471.0,317.75 L472.0,317.82 L473.0,317.97 L474.0,318.20 L475.0,318.49 L476.0,318.83 L477.0,319.23 L478.0,319.69 L479.0,320.21 L480.0,320.81 L481.0,321.46 L482.0,322.13 L483.0,322.80 L484.0,323.44 L485.0,324.07 L486.0,324.69 L487.0,325.28 L488.0,325.85 L489.0,326.40 L490.0,326.91 L491.0,327.41 L492.0,327.85 L493.0,328.23 L494.0,328.53 L495.0,328.74 L496.0,328.88 L497.0,328.96 L498.0,328.99 L499.0,329.00 L500.0,328.99 L501.0,328.95 L502.0,328.88 L503.0,328.78 L504.0,328.66 L505.0,328.53 L506.0,328.40 L507.0,328.26 L508.0,328.12 L509.0,327.98 L510.0,327.85 L511.0,327.75 L512.0,327.66 L513.0,327.59 L514.0,327.54 L515.0,327.51 L516.0,327.52 L517.0,327.54 L518.0,327.58 L519.0,327.65 L520.0,327.73 L521.0,327.83 L522.0,327.94 L523.0,328.06 L524.0,328.21 L525.0,328.38 L526.0,328.59 L527.0,328.84 L528.0,329.13 L529.0,329.44 L530.0,329.78 L531.0,330.16 L532.0,330.58 L533.0,331.06 L534.0,331.62 L535.0,332.27 L536.0,333.00 L537.0,333.79 L538.0,334.60 L539.0,335.41 L540.0,336.18 L541.0,336.94 L542.0,337.68 L543.0,338.41 L544.0,339.13 L545.0,339.83 L546.0,340.53 L547.0,341.21 L548.0,341.89 L549.0,342.55 L550.0,343.19 L551.0,343.80 L552.0,344.36 L553.0,344.88 L554.0,345.34 L555.0,345.77 L556.0,346.18 L557.0,346.60 L558.0,347.03 L559.0,347.49 L560.0,347.96 L561.0,348.44 L562.0,348.92 L563.0,349.41 L564.0,349.91 L565.0,350.40 L566.0,350.90 L567.0,351.40 L568.0,351.91 L569.0,352.42 L570.0,352.95 L571.0,353.50 L572.0,354.06 L573.0,354.65 L574.0,355.24 L575.0,355.84 L576.0,356.43 L577.0,357.02 L578.0,357.62 L579.0,358.21 L580.0,358.81 L581.0,359.38 L582.0,359.93 L583.0,360.44 L584.0,360.90 L585.0,361.32 L586.0,361.70 L587.0,362.04 L588.0,362.33 L589.0,362.56 L590.0,362.72 L591.0,362.81 L592.0,362.84 L593.0,362.82 L594.0,362.78 L595.0,362.73 L596.0,362.67 L597.0,362.60 L598.0,362.51 L599.0,362.41 L600.0,362.34 L601.0,362.31 L602.0,362.35 L603.0,362.44 L604.0,362.61 L605.0,362.86 L606.0,363.20 L607.0,363.66 L608.0,364.23 L609.0,364.90 L610.0,365.63 L611.0,366.40 L612.0,367.17 L613.0,367.92 L614.0,368.67 L615.0,369.43 L616.0,370.18 L617.0,370.90 L618.0,371.56 L619.0,372.16 L620.0,372.68 L621.0,373.16 L622.0,373.58 L623.0,373.97 L624.0,374.31 L625.0,374.60 L626.0,374.82 L627.0,374.98 L628.0,375.05 L629.0,375.06 L630.0,375.00 L631.0,374.88 L632.0,374.73 L633.0,374.52 L634.0,374.26 L635.0,373.94 L636.0,373.61 L637.0,373.30 L638.0,373.02 L639.0,372.77 L640.0,372.54 L641.0,372.33 L642.0,372.13 L643.0,371.97 L644.0,371.84 L645.0,371.76 L646.0,371.73 L647.0,371.75 L648.0,371.83 L649.0,371.94 L650.0,372.08 L651.0,372.24 L652.0,372.41 L653.0,372.59 L654.0,372.78 L655.0,372.96 L656.0,373.14 L657.0,373.34 L658.0,373.55 L659.0,373.77 L660.0,373.98 L661.0,374.20 L662.0,374.40 L663.0,374.60 L664.0,374.78 L665.0,374.95 L666.0,375.11 L667.0,375.26 L668.0,375.40 L669.0,375.55 L670.0,375.71 L671.0,375.88 L672.0,376.07 L673.0,376.27 L674.0,376.49 L675.0,376.73 L676.0,377.01 L677.0,377.33 L678.0,377.71 L679.0,378.17 L680.0,378.71 L681.0,379.32 L682.0,379.98 L683.0,380.66 L684.0,381.35 L685.0,382.07 L686.0,382.79 L687.0,383.53 L688.0,384.26 L689.0,384.97 L690.0,385.67 L691.0,386.34 L692.0,387.01 L693.0,387.66 L694.0,388.29 L695.0,388.88 L696.0,389.44 L697.0,389.95 L698.0,390.42 L699.0,390.86 L700.0,391.29 L701.0,391.72 L702.0,392.16 L703.0,392.60 L704.0,393.04 L705.0,393.47 L706.0,393.88 L707.0,394.28 L708.0,394.65 L709.0,395.02 L710.0,395.37 L711.0,395.69 L712.0,395.99 L713.0,396.26 L714.0,396.50 L715.0,396.70 L716.0,396.87 L717.0,397.00 L718.0,397.10 L719.0,397.16 L720.0,397.18 L721.0,397.14 L722.0,397.07 L723.0,396.96 L724.0,396.83 L725.0,396.69 L726.0,396.55 L727.0,396.38 L728.0,396.20 L729.0,396.01 L730.0,395.83 L731.0,395.67 L732.0,395.57 L733.0,395.52 L734.0,395.53 L735.0,395.60 L736.0,395.72 L737.0,395.89 L738.0,396.10 L739.0,396.37 L740.0,396.71 L741.0,397.10 L742.0,397.52 L743.0,397.96 L744.0,398.40 L745.0,398.83 L746.0,399.27 L747.0,399.71 L748.0,400.15 L749.0,400.56 L750.0,400.95 L751.0,401.32 L752.0,401.66 L753.0,401.99 L754.0,402.30 L755.0,402.58 L756.0,402.84 L757.0,403.08 L758.0,403.28 L759.0,403.46 L760.0,403.62 L761.0,403.76 L762.0,403.87 L763.0,403.97 L764.0,404.05 L765.0,404.11 L766.0,404.15 L767.0,404.18 L768.0,404.20 L769.0,404.20 L770.0,404.20 L771.0,404.19 L772.0,404.16 L773.0,404.13 L774.0,404.07 L775.0,403.99 L776.0,403.89 L777.0,403.76 L778.0,403.60 L779.0,403.42 L780.0,403.19 L781.0,402.93 L782.0,402.61 L783.0,402.25 L784.0,401.86 L785.0,401.46 L786.0,401.10 L787.0,400.78 L788.0,400.54 L789.0,400.39 L790.0,400.34 L791.0,400.39 L792.0,400.54 L793.0,400.81 L794.0,401.22 L795.0,401.77 L796.0,402.42 L797.0,403.13 L798.0,403.88 L799.0,404.63 L800.0,405.41 L801.0,406.20 L802.0,407.00 L803.0,407.79 L804.0,408.58 L805.0,409.34 L806.0,410.10 L807.0,410.85 L808.0,411.59 L809.0,412.33 L810.0,413.06 L811.0,413.80 L812.0,414.53 L813.0,415.27 L814.0,416.01 L815.0,416.75 L816.0,417.49 L817.0,418.22 L818.0,418.95 L819.0,419.67 L820.0,420.37 L821.0,421.07 L822.0,421.74 L823.0,422.40 L824.0,423.04 L825.0,423.64 L826.0,424.20 L827.0,424.72 L828.0,425.21 L829.0,425.70" stroke="#000000" stroke-width="3.2" fill="none" stroke-linecap="round" stroke-linejoin="round"/>
<path d="M69.0,256.00 L70.0,255.29 L71.0,254.58 L72.0,253.88 L73.0,253.17 L74.0,252.48 L75.0,251.80 L76.0,251.14 L77.0,250.48 L78.0,249.84 L79.0,249.21 L80.0,248.61 L81.0,248.03 L82.0,247.48 L83.0,246.98 L84.0,246.55 L85.0,246.21 L86.0,245.98 L87.0,245.91 L88.0,246.04 L89.0,246.33 L90.0,246.75 L91.0,247.25 L92.0,247.80 L93.0,248.38 L94.0,249.00 L95.0,249.64 L96.0,250.29 L97.0,250.94 L98.0,251.59 L99.0,252.24 L100.0,252.89 L101.0,253.52 L102.0,254.13 L103.0,254.69 L104.0,255.18 L105.0,255.60 L106.0,255.95 L107.0,256.25 L108.0,256.53 L109.0,256.78 L110.0,257.02 L111.0,257.25 L112.0,257.45 L113.0,257.64 L114.0,257.81 L115.0,257.97 L116.0,258.11 L117.0,258.24 L118.0,258.35 L119.0,258.45 L120.0,258.54 L121.0,258.62 L122.0,258.68 L123.0,258.74 L124.0,258.77 L125.0,258.79 L126.0,258.80 L127.0,258.79 L128.0,258.77 L129.0,258.73 L130.0,258.68 L131.0,258.62 L132.0,258.55 L133.0,258.46 L134.0,258.35 L135.0,258.24 L136.0,258.13 L137.0,258.03 L138.0,257.94 L139.0,257.86 L140.0,257.80 L141.0,257.75 L142.0,257.70 L143.0,257.65 L144.0,257.60 L145.0,257.55 L146.0,257.50 L147.0,257.44 L148.0,257.37 L149.0,257.29 L150.0,257.21 L151.0,257.12 L152.0,257.02 L153.0,256.92 L154.0,256.80 L155.0,256.66 L156.0,256.49 L157.0,256.28 L158.0,256.06 L159.0,255.81 L160.0,255.50 L161.0,255.12 L162.0,254.63 L163.0,254.00 L164.0,253.24 L165.0,252.40 L166.0,251.51 L167.0,250.61 L168.0,249.71 L169.0,248.80 L170.0,247.88 L171.0,246.97 L172.0,246.08 L173.0,245.21 L174.0,244.37 L175.0,243.57 L176.0,242.87 L177.0,242.27 L178.0,241.79 L179.0,241.44 L180.0,241.24 L181.0,241.22 L182.0,241.40 L183.0,241.78 L184.0,242.31 L185.0,242.99 L186.0,243.80 L187.0,244.70 L188.0,245.64 L189.0,246.62 L190.0,247.63 L191.0,248.67 L192.0,249.66 L193.0,250.57 L194.0,251.38 L195.0,252.13 L196.0,252.81 L197.0,253.43 L198.0,253.96 L199.0,254.40 L200.0,254.74 L201.0,254.99 L202.0,255.18 L203.0,255.32 L204.0,255.41 L205.0,255.47 L206.0,255.49 L207.0,255.48 L208.0,255.45 L209.0,255.42 L210.0,255.37 L211.0,255.29 L212.0,255.19 L213.0,255.10 L214.0,255.04 L215.0,255.07 L216.0,255.21 L217.0,255.49 L218.0,255.89 L219.0,256.39 L220.0,256.94 L221.0,257.52 L222.0,258.16 L223.0,258.84 L224.0,259.53 L225.0,260.18 L226.0,260.74 L227.0,261.19 L228.0,261.55 L229.0,261.85 L230.0,262.15 L231.0,262.47 L232.0,262.83 L233.0,263.24 L234.0,263.65 L235.0,263.98 L236.0,264.17 L237.0,264.19 L238.0,264.04 L239.0,263.74 L240.0,263.34 L241.0,262.84 L242.0,262.27 L243.0,261.61 L244.0,260.87 L245.0,260.08 L246.0,259.30 L247.0,258.55 L248.0,257.83 L249.0,257.14 L250.0,256.52 L251.0,256.00 L252.0,255.59 L253.0,255.29 L254.0,255.09 L255.0,254.97 L256.0,254.93 L257.0,254.96 L258.0,255.04 L259.0,255.18 L260.0,255.34 L261.0,255.53 L262.0,255.75 L263.0,256.00 L264.0,256.27 L265.0,256.54 L266.0,256.82 L267.0,257.10 L268.0,257.37 L269.0,257.64 L270.0,257.91 L271.0,258.18 L272.0,258.46 L273.0,258.73 L274.0,259.02 L275.0,259.31 L276.0,259.61 L277.0,259.91 L278.0,260.21 L279.0,260.50 L280.0,260.77 L281.0,261.02 L282.0,261.27 L283.0,261.50 L284.0,261.71 L285.0,261.90 L286.0,262.06 L287.0,262.20 L288.0,262.31 L289.0,262.40 L290.0,262.47 L291.0,262.50 L292.0,262.48 L293.0,262.41 L294.0,262.26 L295.0,262.04 L296.0,261.72 L297.0,261.31 L298.0,260.79 L299.0,260.19 L300.0,259.59 L301.0,259.02 L302.0,258.49 L303.0,257.99 L304.0,257.54 L305.0,257.19 L306.0,257.01 L307.0,257.02 L308.0,257.22 L309.0,257.54 L310.0,257.94 L311.0,258.36 L312.0,258.80 L313.0,259.29 L314.0,259.81 L315.0,260.37 L316.0,260.97 L317.0,261.63 L318.0,262.32 L319.0,263.03 L320.0,263.73 L321.0,264.42 L322.0,265.09 L323.0,265.75 L324.0,266.39 L325.0,266.98 L326.0,267.48 L327.0,267.87 L328.0,268.14 L329.0,268.31 L330.0,268.39 L331.0,268.41 L332.0,268.39 L333.0,268.32 L334.0,268.21 L335.0,268.06 L336.0,267.89 L337.0,267.72 L338.0,267.55 L339.0,267.38 L340.0,267.21 L341.0,267.03 L342.0,266.86 L343.0,266.73 L344.0,266.65 L345.0,266.64 L346.0,266.69 L347.0,266.81 L348.0,266.97 L349.0,267.18 L350.0,267.42 L351.0,267.69 L352.0,268.00 L353.0,268.33 L354.0,268.68 L355.0,269.04 L356.0,269.42 L357.0,269.81 L358.0,270.20 L359.0,270.58 L360.0,270.95 L361.0,271.31 L362.0,271.65 L363.0,271.99 L364.0,272.31 L365.0,272.63 L366.0,272.94 L367.0,273.25 L368.0,273.54 L369.0,273.82 L370.0,274.09 L371.0,274.36 L372.0,274.62 L373.0,274.87 L374.0,275.12 L375.0,275.36 L376.0,275.60 L377.0,275.84 L378.0,276.08 L379.0,276.33 L380.0,276.59 L381.0,276.87 L382.0,277.15 L383.0,277.44 L384.0,277.71 L385.0,277.96 L386.0,278.17 L387.0,278.32 L388.0,278.42 L389.0,278.50 L390.0,278.58 L391.0,278.70 L392.0,278.88 L393.0,279.10 L394.0,279.34 L395.0,279.59 L396.0,279.83 L397.0,280.03 L398.0,280.21 L399.0,280.37 L400.0,280.51 L401.0,280.62 L402.0,280.68 L403.0,280.68 L404.0,280.62 L405.0,280.49 L406.0,280.30 L407.0,280.08 L408.0,279.82 L409.0,279.53 L410.0,279.22 L411.0,278.88 L412.0,278.50 L413.0,278.12 L414.0,277.74 L415.0,277.40 L416.0,277.12 L417.0,276.87 L418.0,276.67 L419.0,276.53 L420.0,276.45 L421.0,276.45 L422.0,276.53 L423.0,276.70 L424.0,276.93 L425.0,277.21 L426.0,277.52 L427.0,277.86 L428.0,278.24 L429.0,278.65 L430.0,279.08 L431.0,279.52 L432.0,279.96 L433.0,280.42 L434.0,280.88 L435.0,281.34 L436.0,281.77 L437.0,282.18 L438.0,282.55 L439.0,282.90 L440.0,283.24 L441.0,283.57 L442.0,283.90 L443.0,284.24 L444.0,284.57 L445.0,284.89 L446.0,285.21 L447.0,285.52 L448.0,285.82 L449.0,286.11 L450.0,286.40 L451.0,286.68 L452.0,286.97 L453.0,287.27 L454.0,287.58 L455.0,287.90 L456.0,288.22 L457.0,288.55 L458.0,288.90 L459.0,289.26 L460.0,289.65 L461.0,290.07 L462.0,290.51 L463.0,290.96 L464.0,291.42 L465.0,291.86 L466.0,292.30 L467.0,292.74 L468.0,293.17 L469.0,293.60 L470.0,294.02 L471.0,294.43 L472.0,294.84 L473.0,295.23 L474.0,295.62 L475.0,296.00 L476.0,296.37 L477.0,296.72 L478.0,297.06 L479.0,297.37 L480.0,297.67 L481.0,297.95 L482.0,298.21 L483.0,298.45 L484.0,298.68 L485.0,298.90 L486.0,299.10 L487.0,299.28 L488.0,299.45 L489.0,299.59 L490.0,299.72 L491.0,299.84 L492.0,299.94 L493.0,300.02 L494.0,300.08 L495.0,300.11 L496.0,300.10 L497.0,300.04 L498.0,299.93 L499.0,299.78 L500.0,299.59 L501.0,299.39 L502.0,299.16 L503.0,298.91 L504.0,298.63 L505.0,298.36 L506.0,298.14 L507.0,297.98 L508.0,297.87 L509.0,297.80 L510.0,297.72 L511.0,297.64 L512.0,297.55 L513.0,297.46 L514.0,297.42 L515.0,297.42 L516.0,297.49 L517.0,297.61 L518.0,297.76 L519.0,297.94 L520.0,298.14 L521.0,298.35 L522.0,298.57 L523.0,298.81 L524.0,299.06 L525.0,299.31 L526.0,299.57 L527.0,299.83 L528.0,300.10 L529.0,300.36 L530.0,300.58 L531.0,300.78 L532.0,300.96 L533.0,301.13 L534.0,301.30 L535.0,301.48 L536.0,301.66 L537.0,301.84 L538.0,302.04 L539.0,302.23 L540.0,302.43 L541.0,302.63 L542.0,302.85 L543.0,303.09 L544.0,303.37 L545.0,303.68 L546.0,304.03 L547.0,304.43 L548.0,304.86 L549.0,305.35 L550.0,305.90 L551.0,306.53 L552.0,307.23 L553.0,308.01 L554.0,308.83 L555.0,309.67 L556.0,310.51 L557.0,311.34 L558.0,312.20 L559.0,313.09 L560.0,314.04 L561.0,315.08 L562.0,316.21 L563.0,317.40 L564.0,318.58 L565.0,319.71 L566.0,320.73 L567.0,321.61 L568.0,322.35 L569.0,322.98 L570.0,323.51 L571.0,323.97 L572.0,324.35 L573.0,324.67 L574.0,324.92 L575.0,325.14 L576.0,325.33 L577.0,325.50 L578.0,325.66 L579.0,325.79 L580.0,325.90 L581.0,325.99 L582.0,326.07 L583.0,326.13 L584.0,326.17 L585.0,326.19 L586.0,326.19 L587.0,326.15 L588.0,326.05 L589.0,325.88 L590.0,325.65 L591.0,325.37 L592.0,325.07 L593.0,324.76 L594.0,324.46 L595.0,324.17 L596.0,323.90 L597.0,323.66 L598.0,323.43 L599.0,323.20 L600.0,322.98 L601.0,322.77 L602.0,322.60 L603.0,322.45 L604.0,322.36 L605.0,322.34 L606.0,322.38 L607.0,322.51 L608.0,322.71 L609.0,322.97 L610.0,323.28 L611.0,323.62 L612.0,323.99 L613.0,324.39 L614.0,324.85 L615.0,325.36 L616.0,325.90 L617.0,326.40 L618.0,326.84 L619.0,327.19 L620.0,327.46 L621.0,327.68 L622.0,327.86 L623.0,327.99 L624.0,328.10 L625.0,328.16 L626.0,328.18 L627.0,328.14 L628.0,328.04 L629.0,327.87 L630.0,327.65 L631.0,327.41 L632.0,327.17 L633.0,326.95 L634.0,326.76 L635.0,326.59 L636.0,326.44 L637.0,326.29 L638.0,326.14 L639.0,326.00 L640.0,325.87 L641.0,325.74 L642.0,325.62 L643.0,325.51 L644.0,325.43 L645.0,325.40 L646.0,325.41 L647.0,325.43 L648.0,325.45 L649.0,325.49 L650.0,325.53 L651.0,325.58 L652.0,325.63 L653.0,325.69 L654.0,325.75 L655.0,325.83 L656.0,325.91 L657.0,325.99 L658.0,326.09 L659.0,326.19 L660.0,326.29 L661.0,326.40 L662.0,326.51 L663.0,326.62 L664.0,326.73 L665.0,326.85 L666.0,326.96 L667.0,327.07 L668.0,327.19 L669.0,327.31 L670.0,327.45 L671.0,327.60 L672.0,327.77 L673.0,327.96 L674.0,328.17 L675.0,328.39 L676.0,328.63 L677.0,328.90 L678.0,329.21 L679.0,329.56 L680.0,329.96 L681.0,330.44 L682.0,330.97 L683.0,331.56 L684.0,332.16 L685.0,332.78 L686.0,333.43 L687.0,334.09 L688.0,334.75 L689.0,335.40 L690.0,336.03 L691.0,336.63 L692.0,337.21 L693.0,337.78 L694.0,338.38 L695.0,339.01 L696.0,339.70 L697.0,340.41 L698.0,341.02 L699.0,341.50 L700.0,341.86 L701.0,342.16 L702.0,342.39 L703.0,342.58 L704.0,342.73 L705.0,342.84 L706.0,342.92 L707.0,342.97 L708.0,343.01 L709.0,343.05 L710.0,343.08 L711.0,343.11 L712.0,343.15 L713.0,343.18 L714.0,343.21 L715.0,343.23 L716.0,343.25 L717.0,343.27 L718.0,343.29 L719.0,343.31 L720.0,343.33 L721.0,343.34 L722.0,343.36 L723.0,343.37 L724.0,343.38 L725.0,343.39 L726.0,343.39 L727.0,343.38 L728.0,343.36 L729.0,343.34 L730.0,343.35 L731.0,343.41 L732.0,343.52 L733.0,343.67 L734.0,343.86 L735.0,344.10 L736.0,344.37 L737.0,344.69 L738.0,345.06 L739.0,345.47 L740.0,345.92 L741.0,346.38 L742.0,346.85 L743.0,347.33 L744.0,347.83 L745.0,348.33 L746.0,348.83 L747.0,349.32 L748.0,349.79 L749.0,350.25 L750.0,350.71 L751.0,351.15 L752.0,351.55 L753.0,351.90 L754.0,352.19 L755.0,352.42 L756.0,352.60 L757.0,352.75 L758.0,352.87 L759.0,352.98 L760.0,353.09 L761.0,353.21 L762.0,353.32 L763.0,353.43 L764.0,353.53 L765.0,353.64 L766.0,353.77 L767.0,353.94 L768.0,354.16 L769.0,354.45 L770.0,354.82 L771.0,355.25 L772.0,355.73 L773.0,356.27 L774.0,356.84 L775.0,357.46 L776.0,358.11 L777.0,358.80 L778.0,359.53 L779.0,360.33 L780.0,361.20 L781.0,362.11 L782.0,363.02 L783.0,363.93 L784.0,364.83 L785.0,365.70 L786.0,366.52 L787.0,367.26 L788.0,367.93 L789.0,368.54 L790.0,369.10 L791.0,369.60 L792.0,370.02 L793.0,370.34 L794.0,370.55 L795.0,370.63 L796.0,370.60 L797.0,370.46 L798.0,370.26 L799.0,370.03 L800.0,369.79 L801.0,369.54 L802.0,369.26 L803.0,368.96 L804.0,368.64 L805.0,368.33 L806.0,368.03 L807.0,367.78 L808.0,367.59 L809.0,367.49 L810.0,367.50 L811.0,367.61 L812.0,367.81 L813.0,368.07 L814.0,368.36 L815.0,368.69 L816.0,369.05 L817.0,369.45 L818.0,369.87 L819.0,370.33 L820.0,370.81 L821.0,371.32 L822.0,371.85 L823.0,372.42 L824.0,373.02 L825.0,373.65 L826.0,374.33 L827.0,375.05 L828.0,375.82 L829.0,376.61 L830.0,377.42 L831.0,378.24 L832.0,379.07 L833.0,379.90 L834.0,380.75 L835.0,381.60 L836.0,382.45 L837.0,383.28 L838.0,384.09 L839.0,384.87 L840.0,385.63 L841.0,386.38 L842.0,387.13 L843.0,387.87 L844.0,388.62 L845.0,389.40 L846.0,390.22 L847.0,391.07 L847.5,391.51" stroke="#0070C0" stroke-width="3.2" fill="none" stroke-linecap="round" stroke-linejoin="round"/>
</g>
<path d="M667.5,42.4H694" stroke="#7030A0" stroke-width="3.2" stroke-linecap="round"/>
<text x="697.7" y="46.3" class="lg" textLength="118.6" lengthAdjust="spacingAndGlyphs">WB Balun + 5200RF ADC</text>
<path d="M667.5,69.4H694" stroke="#FF0000" stroke-width="3.2" stroke-linecap="round"/>
<text x="697.7" y="73.3" class="lg" textLength="172.4" lengthAdjust="spacingAndGlyphs">NewSi-TRF1208 AMP + 5200RF ADC</text>
<path d="M667.5,96.4H694" stroke="#00B050" stroke-width="3.2" stroke-linecap="round"/>
<text x="697.7" y="100.3" class="lg" textLength="148.7" lengthAdjust="spacingAndGlyphs">LNA + WB Balun + 5200RF ADC</text>
<path d="M667.5,123.4H694" stroke="#000000" stroke-width="3.2" stroke-linecap="round"/>
<text x="697.7" y="127.3" class="lg" textLength="105.1" lengthAdjust="spacingAndGlyphs">SE-FDA + 5200RF ADC</text>
<path d="M667.5,150.4H694" stroke="#0070C0" stroke-width="3.2" stroke-linecap="round"/>
<text x="697.7" y="154.3" class="lg" textLength="148.7" lengthAdjust="spacingAndGlyphs">WB Balun + FDA + 5200RF ADC</text>
<text x="56.3" y="20.6" class="ax" text-anchor="end" textLength="13.6" lengthAdjust="spacingAndGlyphs">60</text>
<text x="56.3" y="96.4" class="ax" text-anchor="end" textLength="13.6" lengthAdjust="spacingAndGlyphs">58</text>
<text x="56.3" y="172.2" class="ax" text-anchor="end" textLength="13.6" lengthAdjust="spacingAndGlyphs">56</text>
<text x="56.3" y="248.0" class="ax" text-anchor="end" textLength="13.6" lengthAdjust="spacingAndGlyphs">54</text>
<text x="56.3" y="323.8" class="ax" text-anchor="end" textLength="13.6" lengthAdjust="spacingAndGlyphs">52</text>
<text x="56.3" y="399.7" class="ax" text-anchor="end" textLength="13.6" lengthAdjust="spacingAndGlyphs">50</text>
<text x="56.3" y="475.5" class="ax" text-anchor="end" textLength="13.6" lengthAdjust="spacingAndGlyphs">48</text>
<text x="56.3" y="551.3" class="ax" text-anchor="end" textLength="13.6" lengthAdjust="spacingAndGlyphs">46</text>
<text x="56.3" y="627.1" class="ax" text-anchor="end" textLength="13.6" lengthAdjust="spacingAndGlyphs">44</text>
<text x="41.2" y="644.9" class="ax" textLength="56.0" lengthAdjust="spacingAndGlyphs">10000000</text>
<text x="135.6" y="644.9" class="ax" textLength="53.0" lengthAdjust="spacingAndGlyphs">1.01E+09</text>
<text x="228.6" y="644.9" class="ax" textLength="53.0" lengthAdjust="spacingAndGlyphs">2.01E+09</text>
<text x="321.5" y="644.9" class="ax" textLength="53.0" lengthAdjust="spacingAndGlyphs">3.01E+09</text>
<text x="414.4" y="644.9" class="ax" textLength="53.0" lengthAdjust="spacingAndGlyphs">4.01E+09</text>
<text x="507.3" y="644.9" class="ax" textLength="53.0" lengthAdjust="spacingAndGlyphs">5.01E+09</text>
<text x="600.3" y="644.9" class="ax" textLength="53.0" lengthAdjust="spacingAndGlyphs">6.01E+09</text>
<text x="693.2" y="644.9" class="ax" textLength="53.0" lengthAdjust="spacingAndGlyphs">7.01E+09</text>
<text x="786.1" y="644.9" class="ax" textLength="53.0" lengthAdjust="spacingAndGlyphs">8.01E+09</text>
<text x="444.2" y="665.8" class="ax" textLength="86.3" lengthAdjust="spacingAndGlyphs">Frequency (Hz)</text>
<text transform="translate(34.4,351.3) rotate(-90)" x="0" y="0" class="ax" textLength="63.2" lengthAdjust="spacingAndGlyphs">SNR (dBFS)</text>
</svg>
</body></html>
